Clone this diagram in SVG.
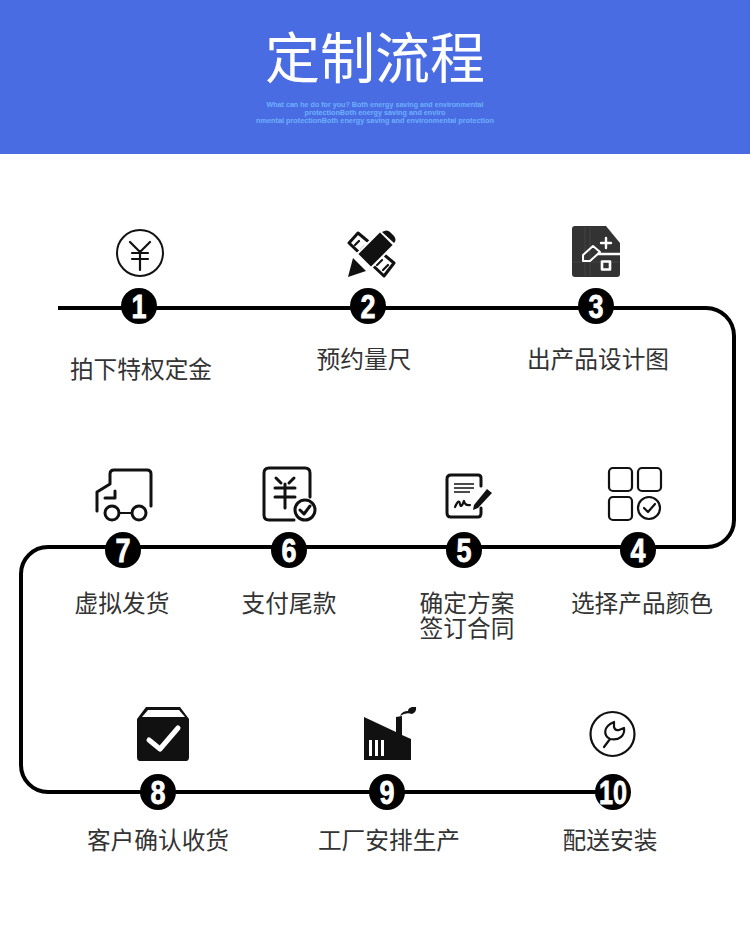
<svg xmlns="http://www.w3.org/2000/svg" width="750" height="949" viewBox="0 0 750 949">
<style>
.lb{font-family:"Noto Sans CJK SC","Noto Sans",sans-serif;font-size:23.7px;fill:#333;text-anchor:middle}
.sub{font-family:"Liberation Sans","Noto Sans",sans-serif;font-size:6.800px;font-weight:700;fill:#6cb0ff;text-anchor:middle}
.num{font-family:"Liberation Sans",sans-serif;font-size:33px;font-weight:700;fill:#fff;text-anchor:middle;stroke:#fff;stroke-width:.8}
.st{fill:none;stroke:#111;stroke-width:3;stroke-linecap:round;stroke-linejoin:round}
.th{fill:none;stroke:#111;stroke-width:2.200;stroke-linecap:round;stroke-linejoin:round}
.wh{fill:none;stroke:#fff;stroke-linecap:round;stroke-linejoin:round}
</style>
<rect id="background" width="750" height="949" fill="#fff"/>
<g id="header">
<rect width="750" height="154" fill="#4a6ce2"/>
<text x="375" y="78" font-family="'Noto Sans CJK SC',sans-serif" font-size="55" fill="#fff" text-anchor="middle">定制流程</text>
<text class="sub" x="375" y="107" textLength="217" lengthAdjust="spacingAndGlyphs">What can he do for you? Both energy saving and environmental</text>
<text class="sub" x="375" y="115" textLength="141" lengthAdjust="spacingAndGlyphs">protectionBoth energy saving and enviro</text>
<text class="sub" x="375" y="123" textLength="238" lengthAdjust="spacingAndGlyphs">nmental protectionBoth energy saving and environmental protection</text>
</g>
<g id="connectors">
<path d="M58 308H706A28 28 0 0 1 734 336V520A27 27 0 0 1 707 547H48A27 27 0 0 0 21 574V765A27 27 0 0 0 48 792H612" fill="none" stroke="#000" stroke-width="4"/>
</g>
<g id="step1">
<circle cx="140" cy="253" r="23" fill="none" stroke="#111" stroke-width="2"/>
<path class="th" d="M130 242L140 252L150 242M140 252V270M132 253H148M132 259H148"/>
<circle cx="139" cy="306" r="18"/><text class="num" x="139" y="318" textLength="15" lengthAdjust="spacingAndGlyphs">1</text>
<text class="lb" x="141" y="377.500">拍下特权定金</text>
</g>
<g id="step2">
<path d="M349 243L358 233L394 263L384 276Z" fill="#fff" stroke="#111" stroke-width="3" stroke-linejoin="round"/>
<path d="M355 245L359 241M361 250L365 246M377 265L382 260M383 270L388 265" class="th" stroke-width="2"/>
<path d="M348 277L353 258L366 271Z" fill="#111"/>
<path d="M357 254L380 231L394 245L371 268Z" fill="#111" stroke="#fff" stroke-width="2"/>
<path d="M382 232Q387 229 390 232L394 236Q397 240 394 243Z" fill="#111"/>
<circle cx="368" cy="306" r="18"/><text class="num" x="368" y="318" textLength="15" lengthAdjust="spacingAndGlyphs">2</text>
<text class="lb" x="364" y="367.500">预约量尺</text>
</g>
<g id="step3">
<path d="M575 226H606L620 243V274Q620 277 617 277H575Q572 277 572 274V229Q572 226 575 226Z" fill="#333"/>
<path d="M585 227V276M590 227V276M573 262H619" stroke="#444" stroke-width="1" fill="none"/>
<path d="M598 254H620" class="wh" stroke-width="2.400"/>
<path d="M601 243H611M606 238V248" class="wh" stroke-width="2.400"/>
<path d="M583 255L593 246L600 252L590 261L583 261Z" class="wh" stroke-width="2" fill="#333"/>
<rect x="602" y="261.500" width="8" height="8" class="wh" stroke-width="2.600"/>
<circle cx="596" cy="306" r="18"/><text class="num" x="596" y="318" textLength="15" lengthAdjust="spacingAndGlyphs">3</text>
<text class="lb" x="598" y="367.500">出产品设计图</text>
</g>
<g id="step4">
<rect x="609" y="468" width="23" height="23" rx="4" class="th"/>
<rect x="638" y="468" width="23" height="23" rx="4" class="th"/>
<rect x="609" y="497" width="23" height="23" rx="4" class="th"/>
<circle cx="649" cy="508" r="11" class="th" stroke-width="1.500"/>
<path d="M644 508L648 512L655 504" class="th" stroke-width="1.500"/>
<circle cx="638" cy="550" r="18"/><text class="num" x="638" y="562" textLength="15" lengthAdjust="spacingAndGlyphs">4</text>
<text class="lb" x="642" y="611.500">选择产品颜色</text>
</g>
<g id="step5">
<path d="M481 486V478Q481 475 478 475H451Q447 475 447 479V513Q447 517 451 517H478Q481 517 481 513V508" class="st"/>
<path d="M454 484H474M454 488H474M454 492H470" stroke="#111" stroke-width="1.600" fill="none"/>
<path d="M455 507Q459 498 460 504Q461 509 464 501Q465 506 470 505" class="th" stroke-width="1.400"/>
<path d="M474 505L487 489L492 493L478 508L473 510Z" fill="#111"/>
<circle cx="464" cy="550" r="18"/><text class="num" x="464" y="562" textLength="15" lengthAdjust="spacingAndGlyphs">5</text>
<text class="lb"><tspan x="467" y="611.500">确定方案</tspan><tspan x="467" y="636.500">签订合同</tspan></text>
</g>
<g id="step6">
<path d="M310 497V473Q310 468 305 468H269Q264 468 264 473V515Q264 520 269 520H294" class="st"/>
<path d="M276 478L281 483M294 478L289 483M275 488H295M275 497H295M285 484V508" class="st"/>
<circle cx="305" cy="510" r="10" class="st" fill="#fff"/>
<path d="M300 510L304 514L310 506" class="st" stroke-width="2.400"/>
<circle cx="289" cy="550" r="18"/><text class="num" x="289" y="562" textLength="15" lengthAdjust="spacingAndGlyphs">6</text>
<text class="lb" x="289" y="611.500">支付尾款</text>
</g>
<g id="step7">
<path d="M97 511V492L110 484V474Q110 470 114 470H147Q151 470 151 474V506" class="st"/>
<path d="M105 498H115V491" class="st" stroke-width="2.200"/>
<circle cx="112" cy="513" r="7" class="st"/>
<circle cx="139" cy="513" r="7" class="st"/>
<path d="M119 513H132" class="th"/>
<circle cx="123" cy="550" r="18"/><text class="num" x="123" y="562" textLength="15" lengthAdjust="spacingAndGlyphs">7</text>
<text class="lb" x="122" y="611.500">虚拟发货</text>
</g>
<g id="step8">
<path d="M137 719L146 707H180L189 719V757Q189 761 186 761H140Q137 761 137 757Z" fill="#111"/>
<path d="M142 717L148 710H179L185 717Z" fill="#fff"/>
<path d="M149 740L160 749L178 728" class="wh" stroke-width="5"/>
<circle cx="158" cy="792" r="18"/><text class="num" x="158" y="804" textLength="15" lengthAdjust="spacingAndGlyphs">8</text>
<text class="lb" x="158" y="848.500">客户确认收货</text>
</g>
<g id="step9">
<path d="M364 717L396 732V717L402 716V735L411 739V760H364Z" fill="#111"/>
<path d="M400 716Q402 711 408 711Q408 708 412 707L416 707Q417 712 412 714Q406 712 400 716Z" fill="#111"/>
<rect x="369" y="740" width="3" height="16" fill="#fff"/>
<rect x="375" y="740" width="3" height="16" fill="#fff"/>
<rect x="381" y="740" width="3" height="16" fill="#fff"/>
<circle cx="387" cy="792" r="18"/><text class="num" x="387" y="804" textLength="15" lengthAdjust="spacingAndGlyphs">9</text>
<text class="lb" x="389" y="848.500">工厂安排生产</text>
</g>
<g id="step10">
<circle cx="612.500" cy="734" r="22" class="th"/>
<path d="M604 747L610 739C604 736 602 727 614 722L614 727Q615 731 619 730L624 728C625 735 620 741 610 739" class="th" stroke-width="2.400"/>
<circle cx="613" cy="792" r="18"/><text class="num" x="613" y="804" textLength="28" lengthAdjust="spacingAndGlyphs">10</text>
<text class="lb" x="610" y="848.500">配送安装</text>
</g>
</svg>
